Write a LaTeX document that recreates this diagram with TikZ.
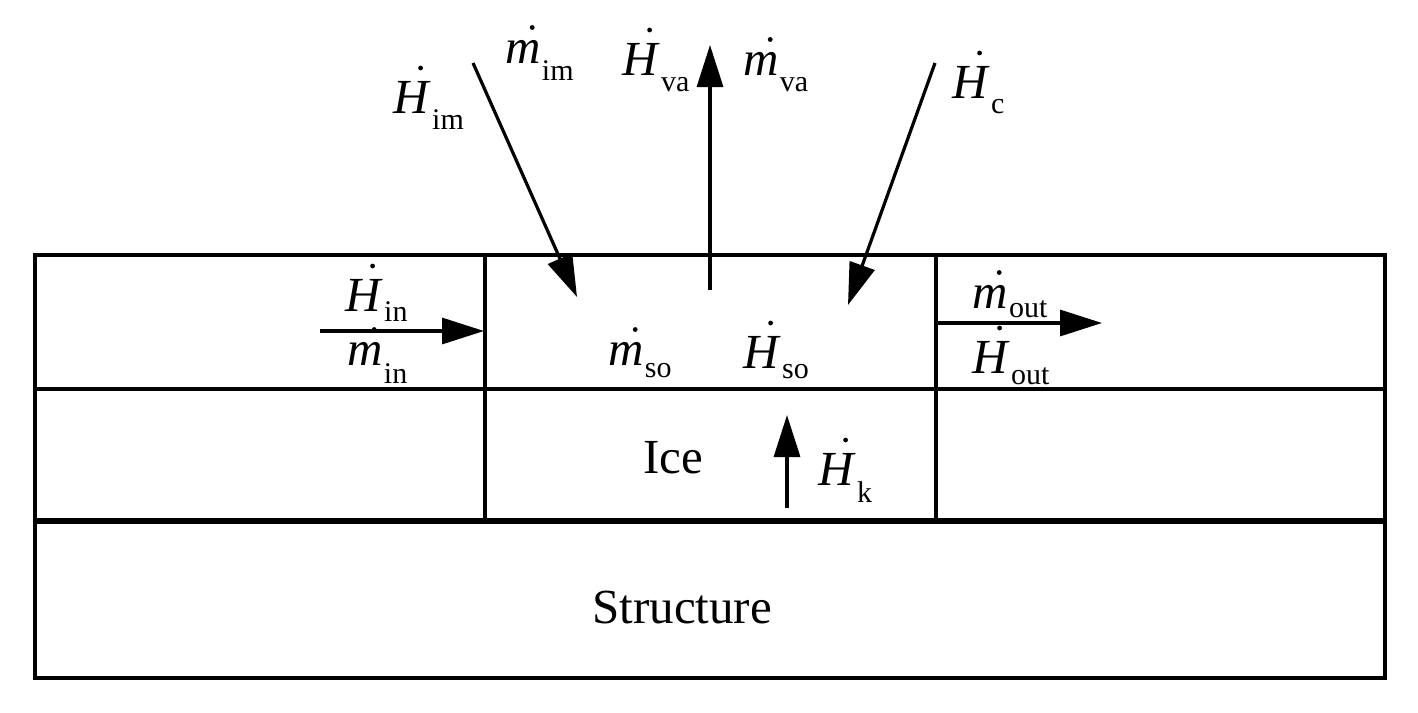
\documentclass[tikz,border=0pt]{standalone}
\usepackage{fontspec}
\setmainfont{Liberation Serif}
\usetikzlibrary{arrows.meta}
\newcommand\flowlbl[3]{\textit{#1}\kern0.6pt\raisebox{-#3}{\fontsize{15}{15}\selectfont #2}}
\newcommand\Hdot[1]{\fill[dotfill] ([shift={(27.6,-45)}]#1.base west) circle (1.2pt);}
\newcommand\mdot[1]{\fill[dotfill] ([shift={(27.2,-35.5)}]#1.base west) circle (1.2pt);}
\begin{document}
\begin{tikzpicture}[x=0.5pt,y=-0.5pt,
  lbl/.style={inner sep=0pt, anchor=base west, font=\fontsize{24.5}{28}\selectfont},
  txt/.style={inner sep=0pt, anchor=base west, font=\fontsize{24.5}{28}\selectfont},
  dotfill/.style={fill=black},
  flow/.style={line width=1.6pt, -{Triangle[length=21pt,width=13pt]}},
  rule/.style={line width=1.6pt},
  heavyrule/.style={line width=3.2pt},
  wall/.style={line width=2.4pt}]
\useasboundingbox (0,0) rectangle (1418,712);
% layers
\draw[rule] (35,255) rectangle (1385,678);
\draw[rule] (35,389) -- (1385,389);
\draw[heavyrule] (35,521) -- (1385,521);
\draw[wall] (485,255) -- (485,521);
\draw[wall] (936,255) -- (936,521);
% arrow end points
\coordinate (imS) at (473,63);
\coordinate (imE) at (577,297);
\coordinate (vaS) at (710,290);
\coordinate (vaE) at (710,45);
\coordinate (cS) at (935,63);
\coordinate (cE) at (848,305);
\coordinate (inS) at (320,331);
\coordinate (inE) at (484,331);
\coordinate (outS) at (937,323);
\coordinate (outE) at (1102,323);
\coordinate (kS) at (787,508);
\coordinate (kE) at (787,415);
\draw[flow] (imS) -- (imE);
\draw[flow] (vaS) -- (vaE);
\draw[flow] (cS) -- (cE);
\draw[flow] (inS) -- (inE);
\draw[flow] (outS) -- (outE);
\draw[flow] (kS) -- (kE);
% labels
\node[lbl] (Him) at (393,113) {\flowlbl{H}{im}{8pt}};
\node[lbl] (mim) at (505,63) {\flowlbl{m}{im}{8.5pt}};
\node[lbl] (Hva) at (622,75) {\flowlbl{H}{va}{8.5pt}};
\node[lbl] (mva) at (743,75) {\flowlbl{m}{va}{8.5pt}};
\node[lbl] (Hc) at (952,98) {\flowlbl{H}{c}{7.5pt}};
\node[lbl] (Hin) at (345,311) {\flowlbl{H}{in}{5pt}};
\node[lbl] (min) at (347,365) {\flowlbl{m}{in}{9pt}};
\node[lbl] (mso) at (608,365) {\flowlbl{m}{so}{6pt}};
\node[lbl] (Hso) at (743,368) {\flowlbl{H}{so}{5pt}};
\node[lbl] (mout) at (972,308) {\flowlbl{m}{out}{4.5pt}};
\node[lbl] (Hout) at (972,373) {\flowlbl{H}{out}{5.5pt}};
\node[lbl] (Hk) at (818,485) {\flowlbl{H}{k}{8.5pt}};
\node[txt] (ice) at (643,473) {Ice};
\node[txt] (structure) at (592,623) {Structure};
% dots
\Hdot{Him} \mdot{mim} \Hdot{Hva} \mdot{mva} \Hdot{Hc}
\Hdot{Hin} \mdot{min} \mdot{mso} \Hdot{Hso}
\mdot{mout} \Hdot{Hout} \Hdot{Hk}
\end{tikzpicture}
\end{document}
